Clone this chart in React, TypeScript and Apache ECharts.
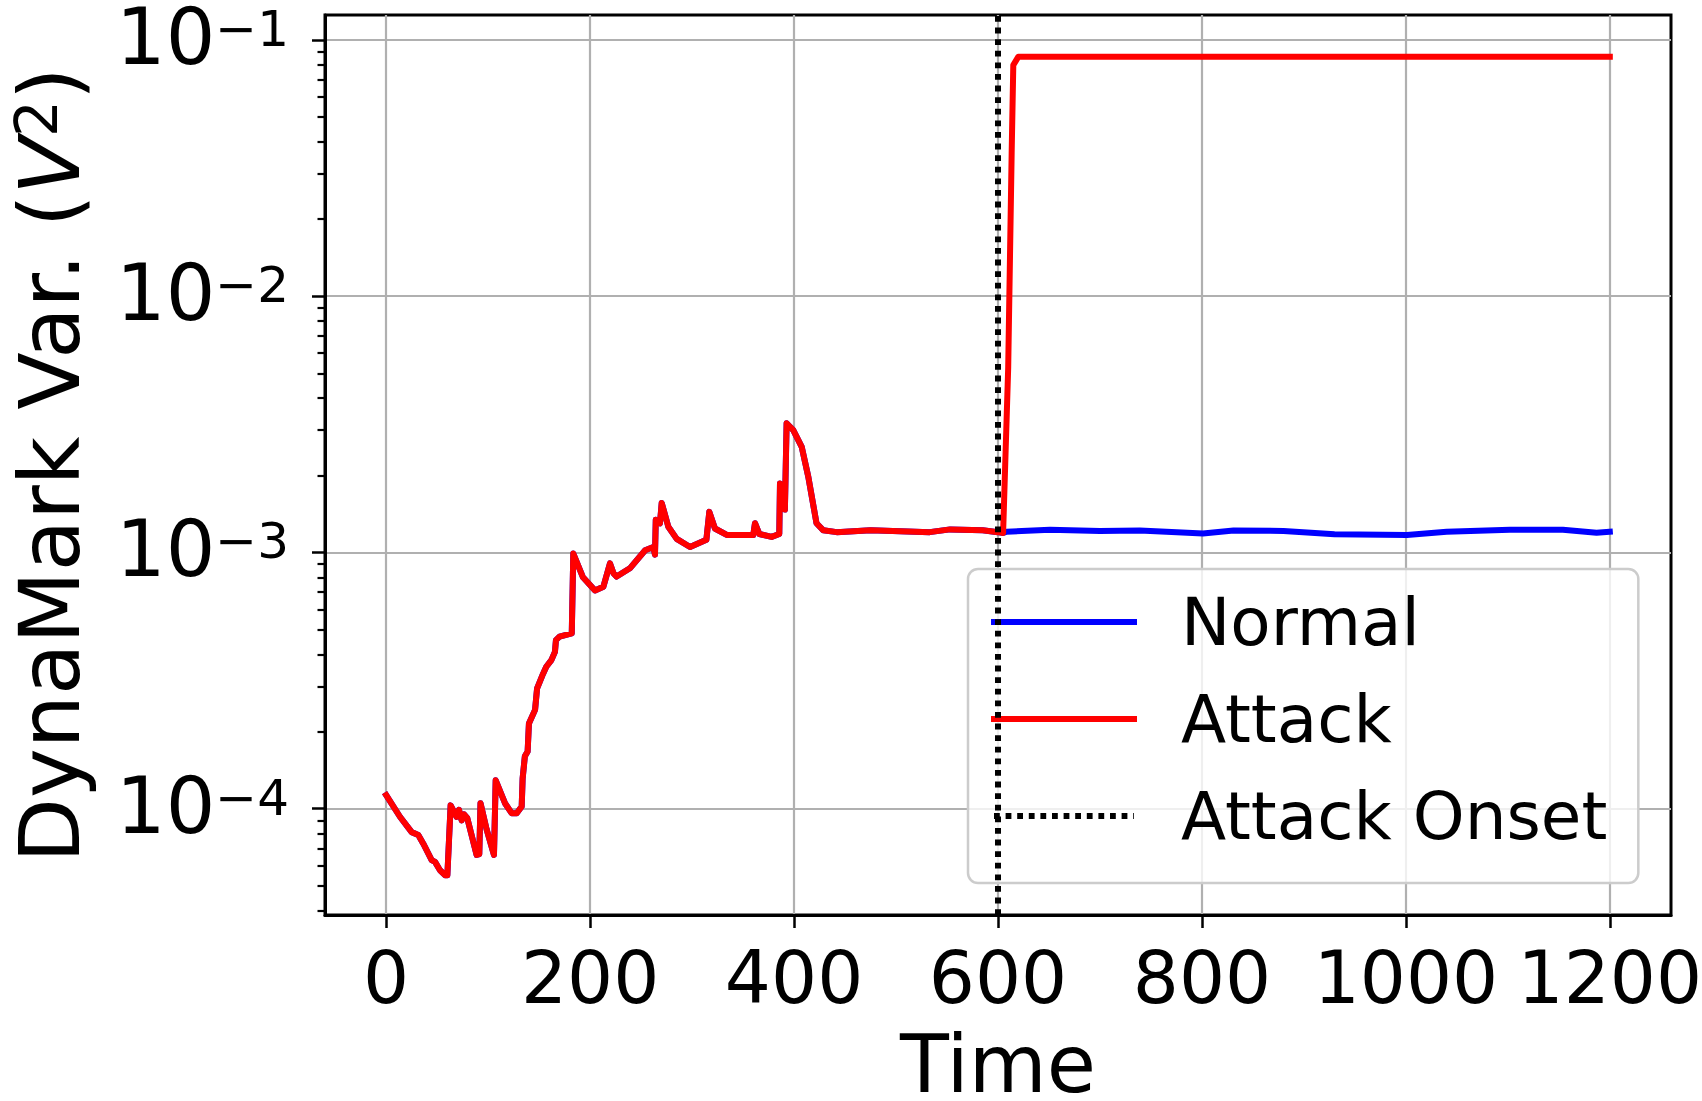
import React, { useEffect, useRef } from "react";
import * as echarts from "echarts";

// ---------- data (values in V^2) ----------
const preAttackTime = [
  0, 13.5, 25, 31.5, 36.4, 44.6, 47.9, 52.8, 57.7, 60, 63.2, 69, 71.4, 74, 76.3, 79.5,
  88.7, 91.3, 92.5, 98.5, 105.7, 107.4, 116.5, 123, 128, 132.9, 133.8, 136, 138.7, 140,
  146, 148, 154, 157, 162, 165.5, 166.5, 170, 182, 183.5, 193, 204.8, 213, 219.5, 223,
  226, 239, 254, 262, 263.6, 264.4, 268.5, 270.2, 276.7, 284.9, 298, 314, 316.9, 322.4,
  334, 360, 361.7, 366, 378, 385.5, 386.2, 389, 391, 392.7, 399.2, 407.5, 414, 422,
  428.7, 441.8, 475, 533, 553, 585, 600, 605,
];
const preAttackValue = [
  1.13e-4, 9.3e-5, 8.1e-5, 7.9e-5, 7.3e-5, 6.3e-5, 6.2e-5, 5.75e-5, 5.5e-5, 5.5e-5, 1.03e-4,
  9.3e-5, 9.9e-5, 9.0e-5, 9.5e-5, 9.2e-5, 6.6e-5, 6.65e-5, 1.05e-4, 8.3e-5, 6.6e-5, 1.29e-4,
  1.05e-4, 9.6e-5, 9.6e-5, 1.02e-4, 1.31e-4, 1.6e-4, 1.67e-4, 2.15e-4, 2.43e-4, 2.95e-4,
  3.37e-4, 3.58e-4, 3.8e-4, 4.09e-4, 4.55e-4, 4.69e-4, 4.83e-4, 9.9e-4, 8.0e-4, 7.1e-4,
  7.35e-4, 9.06e-4, 8.28e-4, 8.05e-4, 8.67e-4, 1.02e-3, 1.05e-3, 9.8e-4, 1.34e-3, 1.3e-3,
  1.56e-3, 1.26e-3, 1.13e-3, 1.05e-3, 1.12e-3, 1.44e-3, 1.24e-3, 1.17e-3, 1.17e-3, 1.3e-3,
  1.18e-3, 1.15e-3, 1.18e-3, 1.86e-3, 1.78e-3, 1.47e-3, 3.19e-3, 3.0e-3, 2.58e-3, 1.97e-3,
  1.3e-3, 1.22e-3, 1.2e-3, 1.22e-3, 1.2e-3, 1.23e-3, 1.22e-3, 1.2e-3, 1.19e-3,
];
const normalPostTime = [608.5, 651, 700, 739, 765, 801, 831, 880, 930, 1001, 1040, 1102, 1154, 1187, 1200];
const normalPostValue = [
  1.205e-3, 1.225e-3, 1.213e-3, 1.219e-3, 1.205e-3, 1.186e-3, 1.219e-3, 1.213e-3, 1.178e-3,
  1.17e-3, 1.205e-3, 1.225e-3, 1.225e-3, 1.194e-3, 1.205e-3,
];
const attackPostTime = [610, 613.4, 615, 620, 1200];
const attackPostValue = [5.27e-3, 3.62e-2, 7.98e-2, 8.61e-2, 8.61e-2];
const onsetTime = 600;

// ---------- axes ----------
const xTickValues = [0, 200, 400, 600, 800, 1000, 1200];
const yMajorExponents = [-4, -3, -2, -1];
const xMin = -60;
const xMax = 1260;
const yLogMin = -4.415;
const yLogMax = -0.9025;

const FONT = "'DejaVu Sans', sans-serif";

function buildMinor(): number[] {
  const out: number[] = [];
  for (let e = -5; e <= -1; e++) {
    for (let k = 2; k <= 9; k++) {
      const v = Math.log10(k) + e;
      if (v >= yLogMin && v <= yLogMax) out.push(v);
    }
  }
  return out;
}

export default function App() {
  const ref = useRef<HTMLDivElement>(null);
  useEffect(() => {
    if (!ref.current) return;
    const chart = echarts.init(ref.current, null, { renderer: "svg" });
    const pre = preAttackTime.map((t, i) => [t, Math.log10(preAttackValue[i])]);
    const normalData = [...pre, ...normalPostTime.map((t, i) => [t, Math.log10(normalPostValue[i])])];
    const attackData = [...pre, ...attackPostTime.map((t, i) => [t, Math.log10(attackPostValue[i])])];
    const onsetData = [
      [onsetTime, yLogMin],
      [onsetTime, yLogMax],
    ];
    const minor = buildMinor();

    chart.setOption({
      animation: false,
      backgroundColor: "#ffffff",
      grid: {
        left: 325,
        top: 15,
        width: 1346,
        height: 900,
        containLabel: false,
        outerBoundsMode: "none",
        show: true,
        borderColor: "#000",
        borderWidth: 3,
        backgroundColor: "transparent",
      },
      legend: {
        orient: "vertical",
        left: 968,
        top: 569,
        itemWidth: 140,
        itemHeight: 20,
        itemGap: 31,
        padding: [20, 31, 34, 23],
        backgroundColor: "rgba(255,255,255,0.8)",
        borderColor: "#cccccc",
        borderWidth: 2.5,
        borderRadius: 10,
        selectedMode: false,
        data: ["Normal", "Attack", "Attack Onset"],
        lineStyle: { width: 6 },
        itemStyle: { opacity: 0 },
        textStyle: { fontSize: 66, fontFamily: FONT, color: "#000", padding: [0, 0, 0, 42] },
      },
      xAxis: [
        {
          type: "value",
          min: xMin,
          max: xMax,
          axisLine: { show: true, onZero: false, lineStyle: { color: "#000", width: 3 } },
          axisTick: { show: true, length: 13, customValues: xTickValues, lineStyle: { color: "#000", width: 2.5 } },
          axisLabel: {
            customValues: xTickValues,
            formatter: (v: number) => String(v),
            showMinLabel: true,
            showMaxLabel: true,
            hideOverlap: false,
            fontSize: 72.5,
            fontFamily: FONT,
            color: "#000",
            margin: 26,
          },
          splitLine: { show: true, lineStyle: { color: "#b0b0b0", width: 2.2 } },
          name: "Time",
          nameLocation: "middle",
          nameGap: 117,
          nameTextStyle: { fontSize: 80, lineHeight: 64, fontFamily: FONT, color: "#000" },
        },
      ],
      yAxis: [
        {
          type: "value",
          min: yLogMin,
          max: yLogMax,
          axisLine: { show: true, onZero: false, lineStyle: { color: "#000", width: 3 } },
          axisTick: { show: true, length: 13, customValues: yMajorExponents, lineStyle: { color: "#000", width: 2.5 } },
          axisLabel: {
            customValues: yMajorExponents,
            showMinLabel: true,
            showMaxLabel: true,
            margin: 36,
            formatter: (v: number) => `{b|10}{s|−${Math.abs(Math.round(v))}}`,
            rich: {
              b: { fontSize: 78, fontFamily: FONT, color: "#000", lineHeight: 72, verticalAlign: "bottom" },
              s: { fontSize: 50, fontFamily: FONT, color: "#000", lineHeight: 40, verticalAlign: "top" },
            },
          },
          splitLine: { show: true, lineStyle: { color: "#b0b0b0", width: 2.2 } },
          name: "{n|DynaMark Var. (}{v|V}{s|2}{n|)}",
          nameLocation: "middle",
          nameGap: 233,
          nameTextStyle: {
            fontSize: 84,
            fontFamily: FONT,
            color: "#000",
            rich: {
              n: { fontSize: 84, fontFamily: FONT, color: "#000", lineHeight: 84 },
              v: { fontSize: 84, fontFamily: FONT, color: "#000", fontStyle: "italic", lineHeight: 84 },
              s: { fontSize: 58, fontFamily: FONT, color: "#000", lineHeight: 42, verticalAlign: "top" },
            },
          },
        },
        {
          type: "value",
          min: yLogMin,
          max: yLogMax,
          position: "left",
          axisLine: { show: false, onZero: false },
          axisTick: { show: true, length: 7.5, customValues: minor, lineStyle: { color: "#000", width: 2.2 } },
          axisLabel: { show: false },
          splitLine: { show: false },
        },
      ],
      series: [
        {
          name: "Normal",
          type: "line",
          data: normalData,
          symbol: "none",
          showSymbol: false,
          z: 2,
          lineStyle: { color: "#0000ff", width: 6, join: "round", cap: "square" },
          itemStyle: { color: "#0000ff" },
        },
        {
          name: "Attack",
          type: "line",
          data: attackData,
          symbol: "none",
          showSymbol: false,
          z: 3,
          lineStyle: { color: "#ff0000", width: 6, join: "round", cap: "square" },
          itemStyle: { color: "#ff0000" },
        },
        {
          name: "Attack Onset",
          type: "line",
          data: onsetData,
          symbol: "none",
          showSymbol: false,
          z: 4,
          lineStyle: { color: "#000000", width: 6, type: [5.8, 5.8], cap: "butt" },
          itemStyle: { color: "#000000" },
        },
      ],
    });
    return () => chart.dispose();
  }, []);
  return (
    <div
      ref={ref}
      style={{ position: "absolute", left: 0, top: 0, width: 1702, height: 1101, background: "#fff" }}
    />
  );
}
